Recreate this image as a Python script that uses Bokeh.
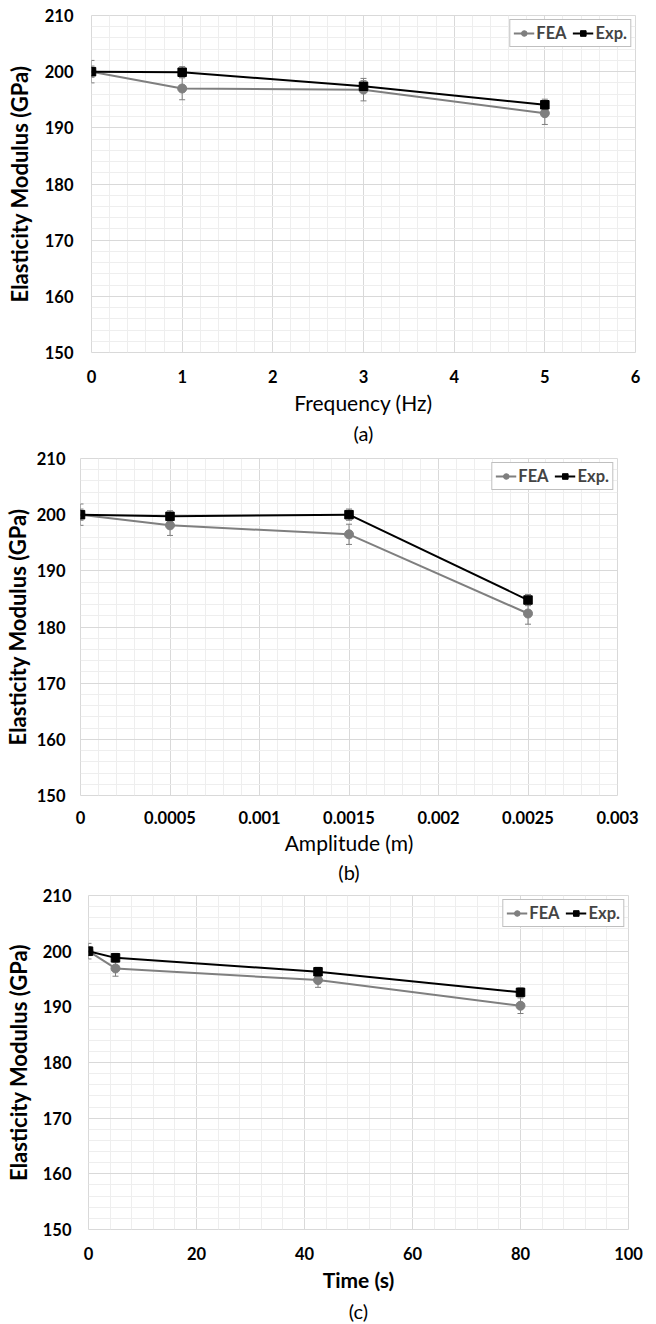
from bokeh.plotting import figure
from bokeh.models import (ColumnDataSource, Whisker, TeeHead, FixedTicker, Legend,
                          LegendItem, Title, Range1d)
from bokeh.embed import file_html
from bokeh.resources import INLINE

# ---------------- data ----------------
# (a) frequency
freq = [0, 1, 3, 5]
fea_a = [200.0, 197.0, 196.8, 192.6]
fea_a_err = [2.0, 2.0, 2.0, 2.0]
exp_a = [200.0, 199.9, 197.4, 194.1]
exp_a_err = [1.0, 1.0, 1.0, 1.0]
freq_ticks = [0, 1, 2, 3, 4, 5, 6]
freq_labels = ["0", "1", "2", "3", "4", "5", "6"]

# (b) amplitude
amp = [0, 0.0005, 0.0015, 0.0025]
fea_b = [200.0, 198.1, 196.5, 182.4]
fea_b_err = [1.9, 1.8, 1.8, 1.9]
exp_b = [200.0, 199.7, 200.0, 184.8]
exp_b_err = [1.0, 1.0, 1.0, 1.0]
amp_ticks = [0, 0.0005, 0.001, 0.0015, 0.002, 0.0025, 0.003]
amp_labels = ["0", "0.0005", "0.001", "0.0015", "0.002", "0.0025", "0.003"]

# (c) time
time_s = [0, 5, 42.5, 80]
fea_c = [200.0, 196.9, 194.8, 190.2]
fea_c_err = [1.4, 1.4, 1.3, 1.4]
exp_c = [200.0, 198.8, 196.3, 192.6]
exp_c_err = [0.8, 0.8, 0.8, 0.8]
time_ticks = [0, 20, 40, 60, 80, 100]
time_labels = ["0", "20", "40", "60", "80", "100"]

y_ticks = [150, 160, 170, 180, 190, 200, 210]
y_labels = ["150", "160", "170", "180", "190", "200", "210"]

series_names = ["FEA", "Exp."]
y_title = "Elasticity Modulus (GPa)"

FONT = "Lato"
GRAY = "#7f7f7f"
MAJOR = "#d9d9d9"
MINOR = "#eeeeee"


def minor_of(ticks, n=5):
    out = []
    for a, b in zip(ticks[:-1], ticks[1:]):
        step = (b - a) / n
        out += [a + step * k for k in range(1, n)]
    return out


def panel(x, fea, fea_err, exp, exp_err, xticks, xlabels, xtitle, xtitle_bold, caption,
          height, left, right, top, bottom, ystand, ytitle_stand, xstand, xtitle_stand,
          cap_stand):
    p = figure(width=656, height=height, output_backend="svg", toolbar_location=None,
               x_range=Range1d(xticks[0], xticks[-1]), y_range=Range1d(y_ticks[0], y_ticks[-1]),
               min_border_left=left, min_border_right=right, min_border_top=top,
               min_border_bottom=bottom)
    p.outline_line_color = MAJOR
    p.background_fill_color = "white"
    p.border_fill_color = "white"

    xt = FixedTicker(ticks=xticks, minor_ticks=minor_of(xticks))
    yt = FixedTicker(ticks=y_ticks, minor_ticks=minor_of(y_ticks))
    p.xaxis.ticker = xt
    p.yaxis.ticker = yt
    p.xaxis.major_label_overrides = dict(zip(xticks, xlabels))
    p.yaxis.major_label_overrides = dict(zip(y_ticks, y_labels))
    for g in (p.xgrid, p.ygrid):
        g.grid_line_color = MAJOR
        g.grid_line_width = 1
        g.minor_grid_line_color = MINOR
        g.minor_grid_line_width = 1
    for ax in (p.xaxis, p.yaxis):
        ax.axis_line_color = None
        ax.major_tick_line_color = None
        ax.minor_tick_line_color = None
        ax.major_tick_out = 0
        ax.major_tick_in = 0
        ax.minor_tick_out = 0
        ax.minor_tick_in = 0
        ax.major_label_text_font = FONT
        ax.major_label_text_font_style = "bold"
        ax.major_label_text_font_size = "16.5px"
        ax.major_label_text_color = "black"
        ax.axis_label_text_font = FONT
        ax.axis_label_text_color = "black"
        ax.axis_label_text_font_size = "21px"
    p.yaxis.major_label_standoff = ystand
    p.yaxis.axis_label = y_title
    p.yaxis.axis_label_text_font_style = "bold"
    p.yaxis.axis_label_text_font_size = "22px"
    p.yaxis.axis_label_standoff = ytitle_stand
    p.xaxis.major_label_standoff = xstand
    p.xaxis.axis_label = xtitle
    p.xaxis.axis_label_text_font_style = "bold" if xtitle_bold else "normal"
    p.xaxis.axis_label_standoff = xtitle_stand

    src_f = ColumnDataSource(dict(x=x, y=fea, lo=[v - e for v, e in zip(fea, fea_err)],
                                  hi=[v + e for v, e in zip(fea, fea_err)]))
    src_e = ColumnDataSource(dict(x=x, y=exp, lo=[v - e for v, e in zip(exp, exp_err)],
                                  hi=[v + e for v, e in zip(exp, exp_err)]))

    for src in (src_f, src_e):
        w = Whisker(source=src, base="x", lower="lo", upper="hi", line_color=GRAY,
                    line_width=1,
                    upper_head=TeeHead(size=6, line_color=GRAY, line_width=1),
                    lower_head=TeeHead(size=6, line_color=GRAY, line_width=1))
        p.add_layout(w)

    lf = p.line("x", "y", source=src_f, line_color=GRAY, line_width=2)
    sf = p.scatter("x", "y", source=src_f, marker="circle", size=9, fill_color=GRAY,
                   line_color=GRAY)
    le = p.line("x", "y", source=src_e, line_color="black", line_width=2)
    se = p.scatter("x", "y", source=src_e, marker="square", size=8.5, fill_color="black",
                   line_color="black")

    leg = Legend(items=[LegendItem(label=series_names[0], renderers=[lf, sf]),
                        LegendItem(label=series_names[1], renderers=[le, se])],
                 orientation="horizontal", location="top_right",
                 border_line_color="#808080", border_line_width=1,
                 background_fill_color="white", background_fill_alpha=1,
                 label_text_font=FONT, label_text_font_style="bold",
                 label_text_font_size="16.5px", glyph_width=21, glyph_height=14,
                 label_height=14, label_standoff=2, spacing=6, padding=3, margin=4)
    p.add_layout(leg)

    t = Title(text=caption, align="center", text_font=FONT, text_font_size="20px",
              text_font_style="normal", text_color="black", standoff=cap_stand)
    p.add_layout(t, "below")
    return p


pa = panel(freq, fea_a, fea_a_err, exp_a, exp_a_err, freq_ticks, freq_labels,
           "Frequency (Hz)", False, "(a)", 446, 91, 21, 15, 93, 18, 9, 17, 4, 3)
pb = panel(amp, fea_b, fea_b_err, exp_b, exp_b_err, amp_ticks, amp_labels,
           "Amplitude (m)", False, "(b)", 438, 78, 39, 12, 89, 15, 3, 15, 3, 0)
pc = panel(time_s, fea_c, fea_c_err, exp_c, exp_c_err, time_ticks, time_labels,
           "Time (s)", True, "(c)", 440, 88, 28, 11, 94, 17, 8, 17, 4, 4)

open("out.html", "w").write(file_html([pa, pb, pc], INLINE))
